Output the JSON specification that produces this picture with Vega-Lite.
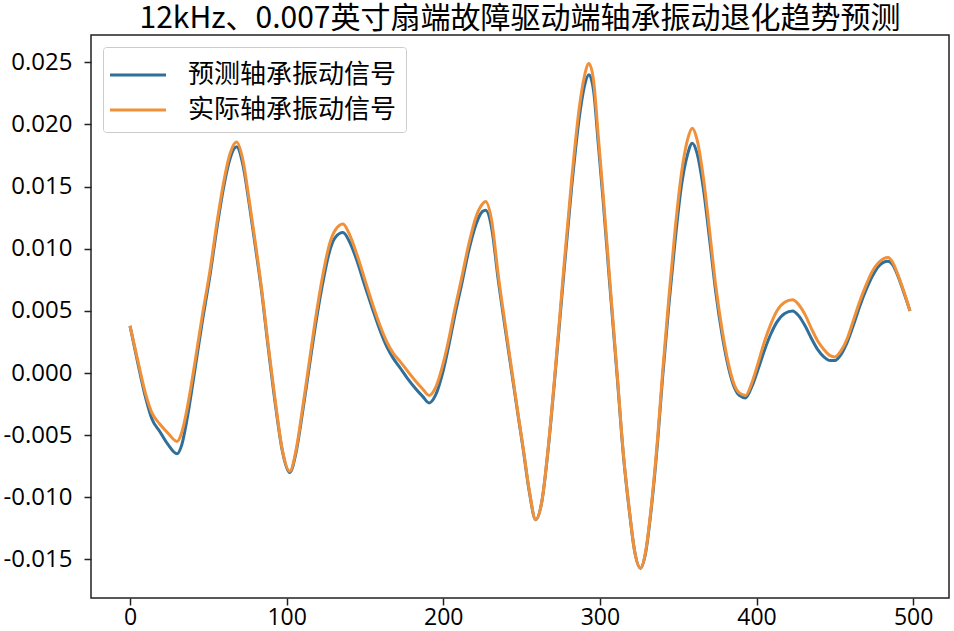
{
  "$schema": "https://vega.github.io/schema/vega-lite/v6.json",
  "autosize": {"type": "none"},
  "padding": {"left": 91, "top": 35, "right": 5, "bottom": 33},
  "width": 858,
  "height": 563,
  "background": "white",
  "title": {
    "text": "12kHz、0.007英寸扇端故障驱动端轴承振动退化趋势预测",
    "font": "Noto Sans CJK SC",
    "fontSize": 30,
    "fontWeight": "normal",
    "color": "black",
    "anchor": "middle",
    "offset": 1
  },
  "config": {
    "view": {"stroke": "#222222", "strokeWidth": 1.5},
    "axis": {
      "grid": false,
      "domain": false,
      "tickColor": "#222222",
      "tickWidth": 1.5,
      "tickSize": 7,
      "labelFont": "Open Sans",
      "labelFontSize": 23,
      "labelColor": "black",
      "title": null
    },
    "legend": {
      "orient": "none",
      "legendX": 12,
      "legendY": 12,
      "title": null,
      "strokeColor": "#cccccc",
      "fillColor": "white",
      "padding": 9,
      "cornerRadius": 3,
      "symbolType": "M-1.2,0H2",
      "symbolSize": 1225,
      "symbolStrokeWidth": 3,
      "labelFont": "Noto Sans CJK SC",
      "labelFontSize": 26,
      "labelColor": "black",
      "labelOffset": 38,
      "labelLimit": 0,
      "rowPadding": 3
    }
  },
  "datasets": {
    "pred": [
      {"x":0,"y":0.0038},{"x":5,"y":0.0008},{"x":10,"y":-0.0020},{"x":14,"y":-0.0037},{"x":19,"y":-0.0047},{"x":24,"y":-0.0057},{"x":30,"y":-0.0065},{"x":33,"y":-0.0058},{"x":37,"y":-0.0033},{"x":41,"y":-0.0001},{"x":46,"y":0.0040},{"x":51,"y":0.0078},{"x":56,"y":0.0121},{"x":60,"y":0.0151},{"x":64,"y":0.0173},{"x":68,"y":0.0182},{"x":72,"y":0.0168},{"x":76,"y":0.0137},{"x":80,"y":0.0102},{"x":84,"y":0.0066},{"x":88,"y":0.0023},{"x":93,"y":-0.0027},{"x":97,"y":-0.0061},{"x":102,"y":-0.0080},{"x":106,"y":-0.0064},{"x":110,"y":-0.0033},{"x":114,"y":0.0001},{"x":118,"y":0.0035},{"x":123,"y":0.0072},{"x":127,"y":0.0096},{"x":131,"y":0.0109},{"x":136,"y":0.0113},{"x":140,"y":0.0106},{"x":145,"y":0.0090},{"x":150,"y":0.0070},{"x":155,"y":0.0051},{"x":160,"y":0.0033},{"x":164,"y":0.0021},{"x":168,"y":0.0012},{"x":172,"y":0.0005},{"x":177,"y":-0.0004},{"x":182,"y":-0.0012},{"x":187,"y":-0.0019},{"x":191,"y":-0.0024},{"x":195,"y":-0.0018},{"x":200,"y":0.0002},{"x":204,"y":0.0025},{"x":207,"y":0.0044},{"x":212,"y":0.0073},{"x":216,"y":0.0097},{"x":221,"y":0.0120},{"x":225,"y":0.0130},{"x":227,"y":0.0131},{"x":231,"y":0.0116},{"x":235,"y":0.0076},{"x":240,"y":0.0032},{"x":244,"y":-0.0002},{"x":248,"y":-0.0036},{"x":251,"y":-0.0061},{"x":255,"y":-0.0096},{"x":259,"y":-0.0118},{"x":263,"y":-0.0103},{"x":267,"y":-0.0061},{"x":271,"y":-0.0007},{"x":276,"y":0.0066},{"x":282,"y":0.0150},{"x":287,"y":0.0207},{"x":290,"y":0.0230},{"x":293,"y":0.0240},{"x":296,"y":0.0227},{"x":299,"y":0.0184},{"x":302,"y":0.0140},{"x":306,"y":0.0076},{"x":311,"y":-0.0002},{"x":315,"y":-0.0066},{"x":319,"y":-0.0113},{"x":322,"y":-0.0142},{"x":326,"y":-0.0157},{"x":329,"y":-0.0146},{"x":333,"y":-0.0107},{"x":337,"y":-0.0053},{"x":340,"y":-0.0004},{"x":344,"y":0.0054},{"x":348,"y":0.0106},{"x":352,"y":0.0150},{"x":356,"y":0.0176},{"x":359,"y":0.0185},{"x":362,"y":0.0177},{"x":366,"y":0.0149},{"x":370,"y":0.0108},{"x":374,"y":0.0065},{"x":378,"y":0.0031},{"x":382,"y":0.0005},{"x":386,"y":-0.0012},{"x":389,"y":-0.0018},{"x":393,"y":-0.0020},{"x":397,"y":-0.0011},{"x":401,"y":0.0003},{"x":405,"y":0.0018},{"x":409,"y":0.0031},{"x":413,"y":0.0041},{"x":418,"y":0.0048},{"x":423,"y":0.0050},{"x":427,"y":0.0046},{"x":431,"y":0.0038},{"x":435,"y":0.0028},{"x":439,"y":0.0019},{"x":443,"y":0.0013},{"x":447,"y":0.0010},{"x":450,"y":0.0010},{"x":454,"y":0.0015},{"x":458,"y":0.0025},{"x":462,"y":0.0039},{"x":466,"y":0.0054},{"x":470,"y":0.0067},{"x":474,"y":0.0078},{"x":478,"y":0.0086},{"x":481,"y":0.0089},{"x":484,"y":0.0090},{"x":487,"y":0.0087},{"x":490,"y":0.0079},{"x":494,"y":0.0065},{"x":498,"y":0.0050}
    ],
    "actual": [
      {"x":0,"y":0.0038},{"x":5,"y":0.0010},{"x":10,"y":-0.0017},{"x":14,"y":-0.0032},{"x":19,"y":-0.0041},{"x":24,"y":-0.0048},{"x":30,"y":-0.0055},{"x":33,"y":-0.0048},{"x":37,"y":-0.0025},{"x":41,"y":0.0005},{"x":46,"y":0.0045},{"x":51,"y":0.0082},{"x":56,"y":0.0125},{"x":60,"y":0.0155},{"x":64,"y":0.0177},{"x":68,"y":0.0186},{"x":72,"y":0.0172},{"x":76,"y":0.0140},{"x":80,"y":0.0105},{"x":84,"y":0.0068},{"x":88,"y":0.0025},{"x":93,"y":-0.0025},{"x":97,"y":-0.0060},{"x":102,"y":-0.0079},{"x":106,"y":-0.0062},{"x":110,"y":-0.0030},{"x":114,"y":0.0005},{"x":118,"y":0.0040},{"x":123,"y":0.0078},{"x":127,"y":0.0102},{"x":131,"y":0.0115},{"x":136,"y":0.0120},{"x":140,"y":0.0112},{"x":145,"y":0.0095},{"x":150,"y":0.0075},{"x":155,"y":0.0055},{"x":160,"y":0.0037},{"x":164,"y":0.0025},{"x":168,"y":0.0016},{"x":172,"y":0.0010},{"x":177,"y":0.0002},{"x":182,"y":-0.0006},{"x":187,"y":-0.0013},{"x":191,"y":-0.0018},{"x":195,"y":-0.0012},{"x":200,"y":0.0008},{"x":204,"y":0.0030},{"x":207,"y":0.0049},{"x":212,"y":0.0078},{"x":216,"y":0.0102},{"x":221,"y":0.0126},{"x":225,"y":0.0136},{"x":227,"y":0.0138},{"x":231,"y":0.0122},{"x":235,"y":0.0080},{"x":240,"y":0.0035},{"x":244,"y":0.0000},{"x":248,"y":-0.0035},{"x":251,"y":-0.0060},{"x":255,"y":-0.0095},{"x":259,"y":-0.0118},{"x":263,"y":-0.0103},{"x":267,"y":-0.0060},{"x":271,"y":-0.0005},{"x":276,"y":0.0070},{"x":282,"y":0.0156},{"x":287,"y":0.0215},{"x":290,"y":0.0238},{"x":293,"y":0.0249},{"x":296,"y":0.0235},{"x":299,"y":0.0190},{"x":302,"y":0.0145},{"x":306,"y":0.0080},{"x":311,"y":0.0000},{"x":315,"y":-0.0065},{"x":319,"y":-0.0112},{"x":322,"y":-0.0142},{"x":326,"y":-0.0157},{"x":329,"y":-0.0145},{"x":333,"y":-0.0105},{"x":337,"y":-0.0050},{"x":340,"y":0.0000},{"x":344,"y":0.0060},{"x":348,"y":0.0115},{"x":352,"y":0.0160},{"x":356,"y":0.0188},{"x":359,"y":0.0197},{"x":362,"y":0.0188},{"x":366,"y":0.0158},{"x":370,"y":0.0115},{"x":374,"y":0.0070},{"x":378,"y":0.0035},{"x":382,"y":0.0008},{"x":386,"y":-0.0010},{"x":389,"y":-0.0016},{"x":393,"y":-0.0018},{"x":397,"y":-0.0008},{"x":401,"y":0.0008},{"x":405,"y":0.0025},{"x":409,"y":0.0039},{"x":413,"y":0.0050},{"x":418,"y":0.0057},{"x":423,"y":0.0059},{"x":427,"y":0.0055},{"x":431,"y":0.0047},{"x":435,"y":0.0036},{"x":439,"y":0.0026},{"x":443,"y":0.0019},{"x":447,"y":0.0014},{"x":450,"y":0.0013},{"x":454,"y":0.0018},{"x":458,"y":0.0028},{"x":462,"y":0.0043},{"x":466,"y":0.0058},{"x":470,"y":0.0071},{"x":474,"y":0.0082},{"x":478,"y":0.0089},{"x":481,"y":0.0092},{"x":484,"y":0.0093},{"x":487,"y":0.0089},{"x":490,"y":0.0080},{"x":494,"y":0.0066},{"x":498,"y":0.0050}
    ]
  },
  "encoding": {
    "x": {
      "field": "x",
      "type": "quantitative",
      "scale": {"domain": [-24.9, 522.9], "nice": false, "zero": false},
      "axis": {"values": [0, 100, 200, 300, 400, 500], "labelPadding": 1}
    },
    "y": {
      "field": "y",
      "type": "quantitative",
      "scale": {"domain": [-0.0181, 0.0272], "nice": false, "zero": false},
      "axis": {
        "values": [-0.015, -0.01, -0.005, 0, 0.005, 0.01, 0.015, 0.02, 0.025],
        "labelExpr": "replace(format(datum.value, '.3f'), '\u2212', '-')",
        "labelFontSize": 24,
        "labelPadding": 12
      }
    },
    "color": {
      "type": "nominal",
      "scale": {
        "domain": ["预测轴承振动信号", "实际轴承振动信号"],
        "range": ["#2f6f9a", "#f0913a"]
      }
    }
  },
  "layer": [
    {
      "data": {"name": "pred"},
      "mark": {"type": "line", "interpolate": "monotone", "strokeWidth": 3},
      "encoding": {"color": {"datum": "预测轴承振动信号", "type": "nominal"}}
    },
    {
      "data": {"name": "actual"},
      "mark": {"type": "line", "interpolate": "monotone", "strokeWidth": 3},
      "encoding": {"color": {"datum": "实际轴承振动信号", "type": "nominal"}}
    }
  ]
}
